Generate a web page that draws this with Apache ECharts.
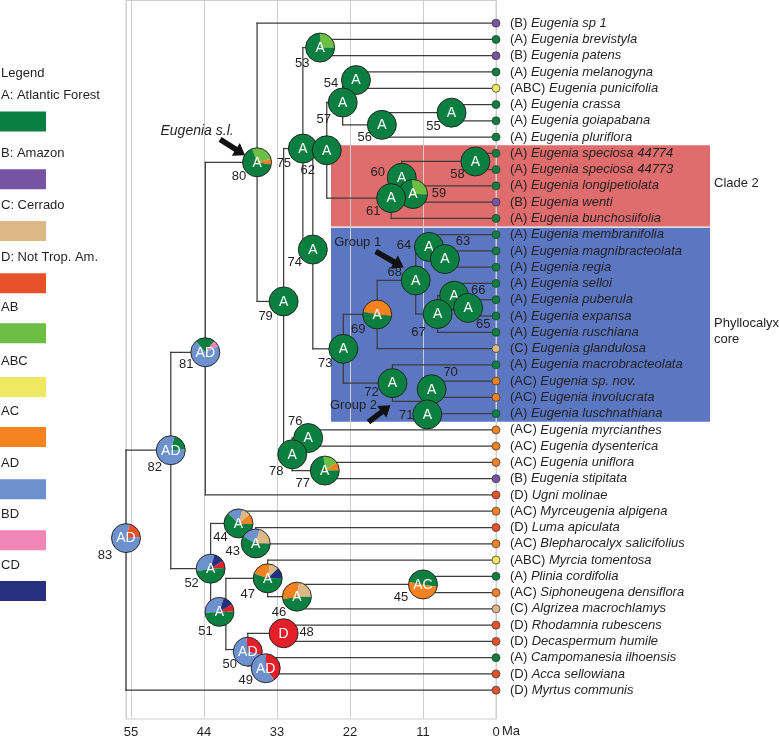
<!DOCTYPE html>
<html><head><meta charset="utf-8">
<script src="https://cdn.jsdelivr.net/npm/echarts@6/dist/echarts.min.js"></script>
<style>html,body{margin:0;padding:0;background:#fff}#c{width:780px;height:736px}</style>
</head><body><div id="c"></div>
<script>
// ---------------- DATA ----------------
const tipNames = ['Eugenia sp 1','Eugenia brevistyla','Eugenia patens','Eugenia melanogyna','Eugenia punicifolia','Eugenia crassa','Eugenia goiapabana','Eugenia pluriflora','Eugenia speciosa 44774','Eugenia speciosa 44773','Eugenia longipetiolata','Eugenia wenti','Eugenia bunchosiifolia','Eugenia membranifolia','Eugenia magnibracteolata','Eugenia regia','Eugenia selloi','Eugenia puberula','Eugenia expansa','Eugenia ruschiana','Eugenia glandulosa','Eugenia macrobracteolata','Eugenia sp. nov.','Eugenia involucrata','Eugenia luschnathiana','Eugenia myrcianthes','Eugenia dysenterica','Eugenia uniflora','Eugenia stipitata','Ugni molinae','Myrceugenia alpigena','Luma apiculata','Blepharocalyx salicifolius','Myrcia tomentosa','Plinia cordifolia','Siphoneugena densiflora','Algrizea macrochlamys','Rhodamnia rubescens','Decaspermum humile','Campomanesia ilhoensis','Acca sellowiana','Myrtus communis'];
const tipArea = ['B','A','B','A','ABC','A','A','A','A','A','A','B','A','A','A','A','A','A','A','A','C','A','AC','AC','A','AC','AC','AC','B','D','AC','D','AC','ABC','A','AC','C','D','D','A','D','D'];

const nodeIds  = [83,82,81,80,79,75,53,74,62,57,54,56,55,61,60,58,59,73,69,68,64,63,67,66,65,72,71,70,78,76,77,52,44,43,51,47,46,45,50,49,48];
const nodeAges = [55.75,49.0,43.8,36.0,32.0,29.1,26.5,27.6,25.5,23.1,21.1,17.2,6.7,15.8,14.2,3.1,12.5,23.0,17.9,12.1,10.1,7.7,8.8,6.3,4.2,15.6,10.35,9.7,30.7,28.3,25.8,43.0,38.8,36.2,40.7,34.4,30.0,11.0,37.4,34.7,32.0];
const nodeKids = [
 ['n82','t41'],['n81','n52'],['n80','t29'],['t0','n79'],['n75','n78'],['n53','n74'],['t1','t2'],['n62','n73'],
 ['n57','n61'],['n54','n56'],['t3','t4'],['n55','t7'],['t5','t6'],['n60','t12'],['n58','n59'],['t8','t9'],['t10','t11'],
 ['n69','n72'],['n68','t20'],['n64','n67'],['t13','n63'],['t14','t15'],['n66','t19'],['t16','n65'],['t17','t18'],
 ['t21','n71'],['n70','t24'],['t22','t23'],['n76','n77'],['t25','t26'],['t27','t28'],
 ['n44','n51'],['t30','n43'],['t31','t32'],['n47','n50'],['t33','n46'],['n45','t36'],['t34','t35'],['n48','n49'],['t39','t40'],['t37','t38']
];
const nodeState = ['AD','AD','AD','A','A','A','A','A','A','A','A','A','A','A','A','A','A','A','A','A','A','A','A','A','A','A','A','A','A','A','A','A','A','A','A','A','A','AC','AD','AD','D'];
// rows read from the picture where the node is not centred on its children
const nodeRowOverride = {83:31.65, 82:26.25, 81:20.23};
// pie composition: [start angle (deg clockwise from top), [area, share]...]
const pieSlices = {
 83:[15,['D',0.2],['AD',0.8]],
 82:[15,['A',0.2],['AD',0.8]],
 81:[-40,['A',0.22],['BD',0.07],['AD',0.71]],
 80:[-20,['AB',0.27],['AC',0.06],['A',0.67]],
 53:[0,['AB',0.25],['A',0.75]],
 59:[-5,['AB',0.27],['A',0.73]],
 69:[-80,['AC',0.49],['A',0.51]],
 77:[-5,['AB',0.17],['AC',0.09],['A',0.74]],
 44:[-45,['AD',0.17],['C',0.1],['AC',0.11],['A',0.62]],
 43:[-60,['AD',0.21],['C',0.21],['A',0.58]],
 52:[-100,['AD',0.32],['CD',0.12],['Dr',0.08],['A',0.48]],
 51:[-95,['AD',0.31],['CD',0.12],['Dr',0.08],['A',0.49]],
 47:[-70,['AC',0.22],['C',0.1],['CD',0.12],['A',0.56]],
 46:[-100,['AC',0.3],['C',0.23],['A',0.47]],
 45:[-80,['A',0.5],['AC',0.5]],
 50:[-5,['Dr',0.3],['AD',0.7]],
 49:[0,['Dr',0.4],['AD',0.6]],
 48:[0,['Dr',1]]
};
const axisTicks = [0,11,22,33,44,55];
const cladeNames = ['Clade 2','Phyllocalyx\ncore'];
const cladeAge = [24.86,24.86];
const cladeRowFrom = [7.5,12.5];
const cladeRowTo = [12.5,24.5];
const legendCodes = ['A','B','C','D','AB','ABC','AC','AD','BD','CD'];
const legendNames = {A:'Atlantic Forest',B:'Amazon',C:'Cerrado',D:'Not Trop. Am.'};
const arrowNodes = [80,68,72];
const arrowTexts = ['Eugenia s.l.','Group 1','Group 2'];

// ---------------- LAYOUT / STYLE ----------------
const FONT = '"Liberation Sans", Arial, Helvetica, sans-serif';
const TXT = '#231f20';
const COLORS = {A:'#0B7F40',B:'#7653A3',C:'#DDB887',D:'#E8522B',AB:'#6DBE45',ABC:'#EFE862',AC:'#F4831F',AD:'#6C91CD',BD:'#EF86B6',CD:'#272F7F',Dr:'#E3202A'};
const cladeColors = ['#E06D6D','#5B77C2'];
const cladeLabelRow = [9.85,18.94];
const pieShift = {71:[0,0.8],43:[0,0.48],51:[0.96,-0.13],50:[0,0.13],49:[0,0.15]};
const numOff = {83:[-21,17],82:[-16,17],81:[-19,12],80:[-18,14],79:[-18,15],75:[-19,15],62:[-19,20],53:[-18,16],54:[-25,3],57:[-19,17],56:[-17,13],55:[-18,14],58:[-18,13],60:[-24,-5],59:[26,-1],61:[-18,13],74:[-18,13],64:[-25,-1],63:[18,-18],68:[-21,-8],66:[24,-5],65:[15,17],67:[-19,18],69:[-19,15],73:[-18,15],70:[19,-17],72:[-21,9],71:[-21,1],76:[-13,-17],78:[-16,17],77:[-22,13],44:[-18,14],43:[-23,8],52:[-19,15],51:[-14,20],47:[-20,16],46:[-18,16],45:[-22,13],48:[23,-1],50:[-18,13],49:[-20,12]};
const arrowGeom = [
 {tail:[-37,-23], tip:[-12,-7], text:[-60,-31], italic:true, size:14},
 {tail:[-40,-29], tip:[-12,-13], text:[-58,-38], italic:false, size:13},
 {tail:[-24,39], tip:[-2,22], text:[-39,22], italic:false, size:13}
];
const legendTextY = [97.3,155,206.7,259,309,362.7,412.7,465,516,566.7];
const PIE_R = 14.5;

// ---------------- TREE COMPUTATION ----------------
const idx = {}; nodeIds.forEach((id,i)=>idx[id]=i);
const rowCache = {};
function kidRow(k){ return k[0]==='t' ? +k.slice(1) : nodeRow(+k.slice(1)); }
function kidAge(k){ return k[0]==='t' ? 0 : nodeAges[idx[+k.slice(1)]]; }
function nodeRow(id){
  if (rowCache[id] !== undefined) return rowCache[id];
  const ks = nodeKids[idx[id]].map(kidRow);
  const r = nodeRowOverride[id] !== undefined ? nodeRowOverride[id] : ks.reduce((a,b)=>a+b,0)/ks.length;
  rowCache[id] = r; return r;
}
const edgeData = [];
nodeIds.forEach((id,i)=>{
  const age = nodeAges[i];
  const rows = nodeKids[i].map(kidRow);
  edgeData.push([age, Math.min(...rows), age, Math.max(...rows)]);
  nodeKids[i].forEach(k=>{ const r = kidRow(k); edgeData.push([age, r, kidAge(k), r]); });
});
const tipData = tipNames.map((n,i)=>[0,i,i]);
const pieData = nodeIds.map((id,i)=>{
  const s = pieShift[id] || [0,0];
  return [nodeAges[i]+s[0], nodeRow(id)+s[1], i];
}).sort((a,b)=>a[1]-b[1]);   // lower pies drawn over upper ones
const cladeData = cladeNames.map((n,i)=>[cladeAge[i], cladeRowFrom[i], cladeRowTo[i], i]);
const arrowData = arrowNodes.map((id,i)=>[nodeAges[idx[id]], nodeRow(id), i]);

// ---------------- CHART ----------------
const chart = echarts.init(document.getElementById('c'), null, {renderer:'canvas', width:780, height:736});
const option = {
  animation:false,
  grid:{left:126, top:0.5, width:370, height:718.5, show:true, borderColor:'#cfcfcf', borderWidth:1, backgroundColor:'transparent', containLabel:false, outerBoundsMode:'none'},
  xAxis:{type:'value', inverse:true, min:0, max:nodeAges[0], interval:11,
    axisLine:{show:false}, axisTick:{show:false},
    splitLine:{show:true, lineStyle:{color:'#cfcfcf', width:1}},
    axisLabel:{fontSize:13, color:TXT, fontFamily:FONT, margin:7, showMaxLabel:false,
      formatter:v=> axisTicks.indexOf(v)>=0 ? String(v) : ''}},
  yAxis:{type:'value', inverse:true, min:-1.394, max:42.77, show:false},
  graphic:{elements:[]},
  series:[
    {type:'custom', name:'clades', z:-5, clip:false, data:cladeData,
     renderItem:(p,api)=>{
       const i = api.value(3);
       const a = api.coord([api.value(0), api.value(1)]);
       const b = api.coord([0, api.value(2)]);
       const top = a[1] + (i>0 ? 1.3 : 0);
       const right = b[0] + 214;
       const lab = api.coord([0, cladeLabelRow[i]]);
       return {type:'group', children:[
         {type:'rect', shape:{x:a[0], y:top, width:right-a[0], height:b[1]-top}, style:{fill:cladeColors[i]}},
         {type:'text', style:{x:right+4, y:lab[1], text:cladeNames[i], fill:TXT, font:'13px '+FONT, verticalAlign:'middle', align:'left', lineHeight:16}}
       ]};
     }},
    {type:'custom', name:'branches', z:2, clip:false, data:edgeData,
     renderItem:(p,api)=>{
       const a = api.coord([api.value(0), api.value(1)]);
       const b = api.coord([api.value(2), api.value(3)]);
       return {type:'line', shape:{x1:a[0], y1:a[1], x2:b[0], y2:b[1]}, style:{stroke:'#3d3d3d', lineWidth:1.25, lineCap:'square'}};
     }},
    {type:'custom', name:'tips', z:3, clip:false, data:tipData,
     renderItem:(p,api)=>{
       const i = api.value(2);
       const c = api.coord([api.value(0), api.value(1)]);
       return {type:'group', children:[
         {type:'circle', shape:{cx:c[0], cy:c[1], r:4}, style:{fill:COLORS[tipArea[i]], stroke:'#333', lineWidth:0.7}},
         {type:'text', style:{x:c[0]+14, y:c[1], text:'{n|('+tipArea[i]+')} {i|'+tipNames[i]+'}', verticalAlign:'middle', align:'left', fill:TXT,
           font:'13px '+FONT,
           rich:{n:{fontSize:13, fontFamily:FONT, fill:TXT}, i:{fontSize:13, fontFamily:FONT, fontStyle:'italic', fill:TXT}}}}
       ]};
     }},
    {type:'custom', name:'ancestral areas', z:4, clip:false, data:pieData,
     renderItem:(p,api)=>{
       const i = api.value(2); const id = nodeIds[i];
       const c = api.coord([api.value(0), api.value(1)]);
       const spec = pieSlices[id] || [0,[nodeState[i],1]];
       const kids = [];
       let ang = spec[0];
       for (let k=1;k<spec.length;k++){
         const sh = spec[k][1]*360;
         kids.push({type:'sector', shape:{cx:c[0], cy:c[1], r:PIE_R, r0:0, startAngle:(ang-90)*Math.PI/180, endAngle:(ang+sh-90)*Math.PI/180, clockwise:true}, style:{fill:COLORS[spec[k][0]]}});
         ang += sh;
       }
       kids.push({type:'circle', shape:{cx:c[0], cy:c[1], r:PIE_R}, style:{fill:null, stroke:'#1e1e1e', lineWidth:0.9}});
       kids.push({type:'text', style:{x:c[0], y:c[1]+0.5, text:nodeState[i], fill:'#fff', font:'14px '+FONT, align:'center', verticalAlign:'middle'}});
       const o = numOff[id] || [-18,14];
       kids.push({type:'text', style:{x:c[0]+o[0], y:c[1]+o[1], text:String(id), fill:TXT, font:'13px '+FONT, align:'center', verticalAlign:'middle'}});
       return {type:'group', children:kids};
     }},
    {type:'custom', name:'arrows', z:5, clip:false, data:arrowData,
     renderItem:(p,api)=>{
       const i = api.value(2); const g = arrowGeom[i];
       const c = api.coord([api.value(0), api.value(1)]);
       const T = [c[0]+g.tail[0], c[1]+g.tail[1]], P = [c[0]+g.tip[0], c[1]+g.tip[1]];
       const dx = P[0]-T[0], dy = P[1]-T[1], L = Math.hypot(dx,dy);
       const d = [dx/L, dy/L], n = [-d[1], d[0]];
       const hw = 2.8, hh = 7.5, hl = 11;
       const H = [P[0]-d[0]*hl, P[1]-d[1]*hl];
       const pt = (b,s)=>[b[0]+n[0]*s, b[1]+n[1]*s];
       const pts = [pt(T,hw), pt(H,hw), pt(H,hh), P, pt(H,-hh), pt(H,-hw), pt(T,-hw)];
       return {type:'group', children:[
         {type:'polygon', shape:{points:pts}, style:{fill:'#111'}},
         {type:'text', style:{x:c[0]+g.text[0], y:c[1]+g.text[1], text:arrowTexts[i], fill:TXT, font:(g.italic?'italic ':'')+g.size+'px '+FONT, align:'center', verticalAlign:'middle'}}
       ]};
     }}
  ]
};
// legend (left) and axis unit
const els = [{type:'text', left:1, top:75-8, style:{text:'Legend', fill:TXT, font:'13px '+FONT}}];
legendCodes.forEach((code,i)=>{
  const label = legendNames[code] ? code+': '+legendNames[code] : code;
  els.push({type:'text', left:1, top:legendTextY[i]-8, style:{text:label, fill:TXT, font:'13px '+FONT}});
  els.push({type:'rect', left:0, top:legendTextY[i]+14.2, shape:{width:46, height:20}, style:{fill:COLORS[code]}});
});
els.push({type:'text', left:502, top:732-7, style:{text:'Ma', fill:TXT, font:'13px '+FONT}});
option.graphic.elements = els;
chart.setOption(option);
</script></body></html>
